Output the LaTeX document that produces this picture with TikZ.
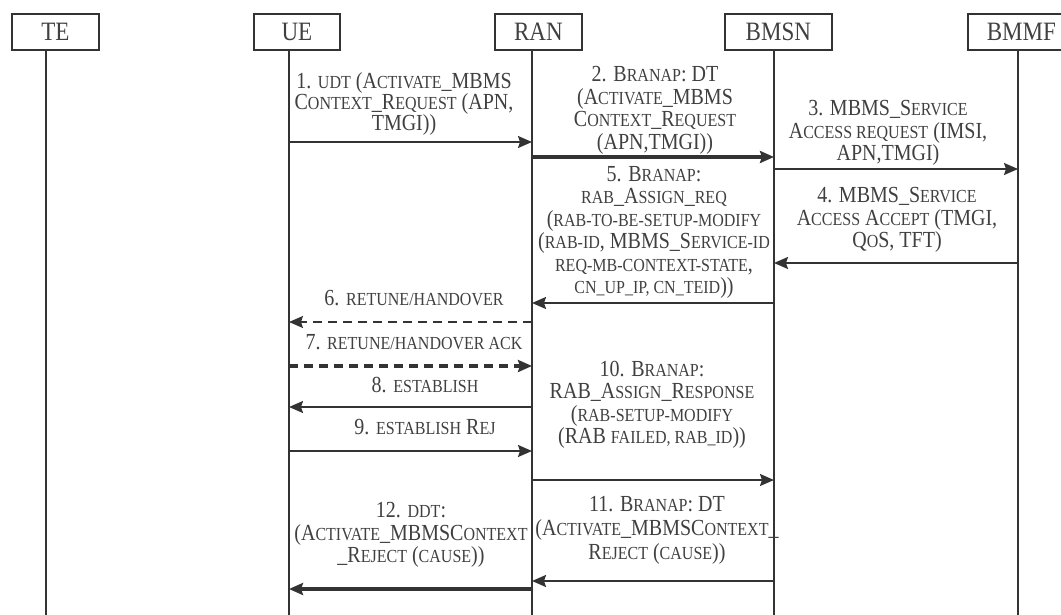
\documentclass[tikz,border=0pt]{standalone}
\usepackage{fontspec}
\setmainfont{Liberation Serif}[FakeStretch=0.87]
\usetikzlibrary{arrows.meta}
\definecolor{ln}{HTML}{333333}
\definecolor{tx}{HTML}{404040}
\newcommand\sm[1]{{\fontsize{18.4}{22}\selectfont\MakeUppercase{#1}}}

\begin{document}
\begin{tikzpicture}[x=1pt,y=-1pt,
  actor/.style={draw=ln,line width=1.8pt,minimum height=36pt,inner sep=0pt,anchor=north west,text=tx,font=\fontsize{26.5}{28}\selectfont},
  life/.style={draw=ln,line width=1.6pt},
  lbl/.style={text=tx,align=center,inner sep=0pt,font=\fontsize{23}{22.5}\selectfont},
  msg/.style={draw=ln,line width=1.8pt,-{Stealth[length=14pt,width=12pt,inset=2pt]}},
  bigmsg/.style={msg,line width=3.8pt},
  dmsg/.style={msg,line width=1.5pt,dash pattern=on 9pt off 6pt},
  bigdmsg/.style={msg,line width=3.6pt,dash pattern=on 9pt off 6pt}]
\useasboundingbox (0,0) rectangle (1061,615);
\clip (0,0) rectangle (1061,615);
% entities
\node[actor,minimum width=87pt] (te) at (11,13) {TE};
\node[actor,minimum width=86pt] (ue) at (253,13) {UE};
\node[actor,minimum width=87pt] (ran) at (494,13) {RAN};
\node[actor,minimum width=107pt] (bmsn) at (724,13) {BMSN};
\node[actor,minimum width=107pt] (bmmf) at (967,13) {BMMF};
\coordinate (te-l) at (46,49);
\coordinate (ue-l) at (289,49);
\coordinate (ran-l) at (532,49);
\coordinate (bmsn-l) at (774,49);
\coordinate (bmmf-l) at (1018,49);
\draw[life] (te-l) -- (te-l |- 0,615);
\draw[life] (ue-l) -- (ue-l |- 0,615);
\draw[life] (ran-l) -- (ran-l |- 0,615);
\draw[life] (bmsn-l) -- (bmsn-l |- 0,615);
\draw[life] (bmmf-l) -- (bmmf-l |- 0,615);
% messages
\node[lbl,font=\fontsize{23}{21}\selectfont] (m1) at (404,104) {1. \sm{udt} (A\sm{ctivate}\_MBMS\\C\sm{ontext}\_R\sm{equest} (APN,\\TMGI))};
\draw[msg] (ue-l |- 0,142) -- (ran-l |- 0,142);
\node[lbl] (m2) at (655,110.5) {2. B\sm{ranap}: DT\\(A\sm{ctivate}\_MBMS\\C\sm{ontext}\_R\sm{equest}\\(APN,TMGI))};
\draw[bigmsg] (ran-l |- 0,157) -- (bmsn-l |- 0,157);
\node[lbl] (m3) at (888,133) {3. MBMS\_S\sm{ervice}\\A\sm{ccess request} (IMSI,\\APN,TMGI)};
\draw[msg] (bmsn-l |- 0,169) -- (bmmf-l |- 0,169);
\node[lbl] (m4) at (897,220) {4. MBMS\_S\sm{ervice}\\A\sm{ccess} A\sm{ccept} (TMGI,\\Q\sm{o}S, TFT)};
\draw[msg] (bmmf-l |- 0,263) -- (bmsn-l |- 0,263);
\node[lbl] (m5) at (654,232.5) {5. B\sm{ranap}:\\\sm{rab}\_A\sm{ssign}\_\sm{req}\\(\sm{rab-to-be-setup-modify}\\(\sm{rab-id}, MBMS\_S\sm{ervice-id}\\\sm{req-mb-context-state},\\\sm{cn\_up\_ip, cn\_teid}))};
\draw[msg] (bmsn-l |- 0,303) -- (ran-l |- 0,303);
\node[lbl] (m6) at (414,298) {6. \sm{retune/handover}};
\draw[dmsg] (ran-l |- 0,322) -- (ue-l |- 0,322);
\node[lbl] (m7) at (414,342) {7. \sm{retune/handover ack}};
\draw[bigdmsg] (ue-l |- 0,366) -- (ran-l |- 0,366);
\node[lbl] (m8) at (425,385) {8. \sm{establish}};
\draw[msg] (ran-l |- 0,407) -- (ue-l |- 0,407);
\node[lbl] (m9) at (425,427) {9. \sm{establish} R\sm{ej}};
\draw[msg] (ue-l |- 0,451) -- (ran-l |- 0,451);
\node[lbl] (m10) at (652,405) {10. B\sm{ranap}:\\RAB\_A\sm{ssign}\_R\sm{esponse}\\(\sm{rab-setup-modify}\\(RAB \sm{failed, rab\_id}))};
\draw[msg] (ran-l |- 0,480) -- (bmsn-l |- 0,480);
\node[lbl,font=\fontsize{23}{24}\selectfont] (m11) at (657,530) {11. B\sm{ranap}: DT\\(A\sm{ctivate}\_MBMSC\sm{ontext}\_\\R\sm{eject} (\sm{cause}))};
\draw[msg] (bmsn-l |- 0,581) -- (ran-l |- 0,581);
\node[lbl] (m12) at (411,535) {12. \sm{ddt}:\\(A\sm{ctivate}\_MBMSC\sm{ontext}\\\_R\sm{eject} (\sm{cause}))};
\draw[bigmsg] (ran-l |- 0,589) -- (ue-l |- 0,589);
\end{tikzpicture}
\end{document}
